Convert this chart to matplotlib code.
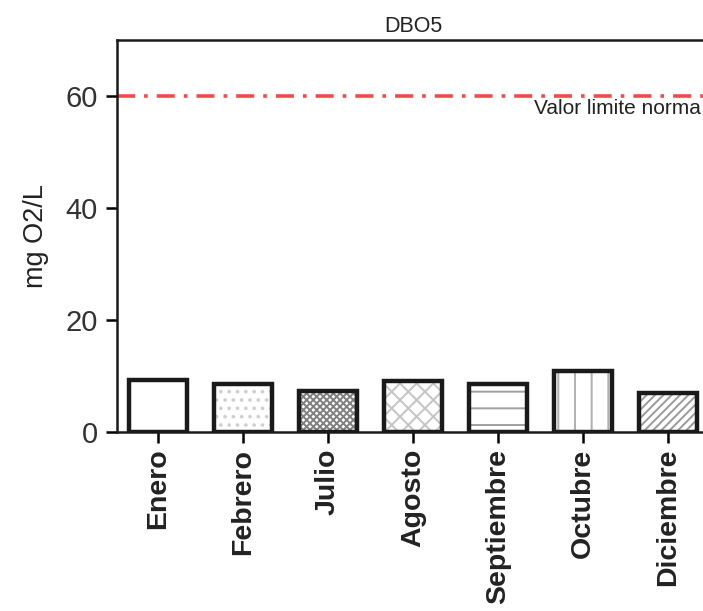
import matplotlib.pyplot as plt

# DBO5 monthly values (mg O2/L)
months = ["Enero", "Febrero", "Julio", "Agosto", "Septiembre", "Octubre", "Diciembre"]
dbo5 = [9.2, 8.6, 7.4, 9.1, 8.6, 10.9, 7.0]
limit_value = 60

# one hatch per month, with its hatch colour
hatches = ["", "..", "xxxxx", "xx", "-", "|", "////"]
hatch_colors = ["#ffffff", "#cfcfcf", "#808080", "#c4c4c4", "#a0a0a0", "#b0b0b0", "#9a9a9a"]

plt.rcParams["font.family"] = ["Liberation Sans", "DejaVu Sans"]
plt.rcParams["hatch.linewidth"] = 1.4

fig = plt.figure(figsize=(7.03, 6.11), dpi=100)
ax = fig.add_axes([117 / 703, (611 - 432) / 611, 592 / 703, 392 / 611])

x = list(range(len(months)))
width = 0.68

# hatch fill first, then a black outline on top
for xi, val, h, hc in zip(x, dbo5, hatches, hatch_colors):
    ax.bar(xi, val, width, color="white", edgecolor=hc, hatch=h, linewidth=0)
ax.bar(x, dbo5, width, fill=False, edgecolor="#1a1a1a", linewidth=3.2, zorder=3)

# regulatory limit
ax.axhline(limit_value, color="#f04a4a", linewidth=2.6, linestyle=(0, (5, 2.5, 1, 2.5)), zorder=2)
ax.text(6.39, limit_value - 0.6, "Valor limite norma", fontsize=15, va="top", ha="right",
        color="#222222")

ax.set_xlim(-0.48, 6.48)
ax.set_ylim(0, 70)
ax.set_yticks([0, 20, 40, 60])
ax.set_xticks(x)
ax.set_xticklabels(months, rotation=90, fontsize=20.5, fontweight="bold", color="#222222")
ax.tick_params(axis="y", labelsize=21, labelcolor="#333333", length=8, width=1.8,
               direction="out", pad=6)
ax.tick_params(axis="x", length=8, width=1.8, direction="out", pad=4)

for side in ["left", "bottom", "top"]:
    ax.spines[side].set_linewidth(1.8)
    ax.spines[side].set_color("#1a1a1a")
ax.spines["right"].set_visible(False)

ax.set_ylabel("mg O2/L", fontsize=19.5, labelpad=12, color="#222222")
ax.set_title("DBO5", fontsize=15.5, pad=6, color="#222222")

fig.savefig("out.png", dpi=100)
